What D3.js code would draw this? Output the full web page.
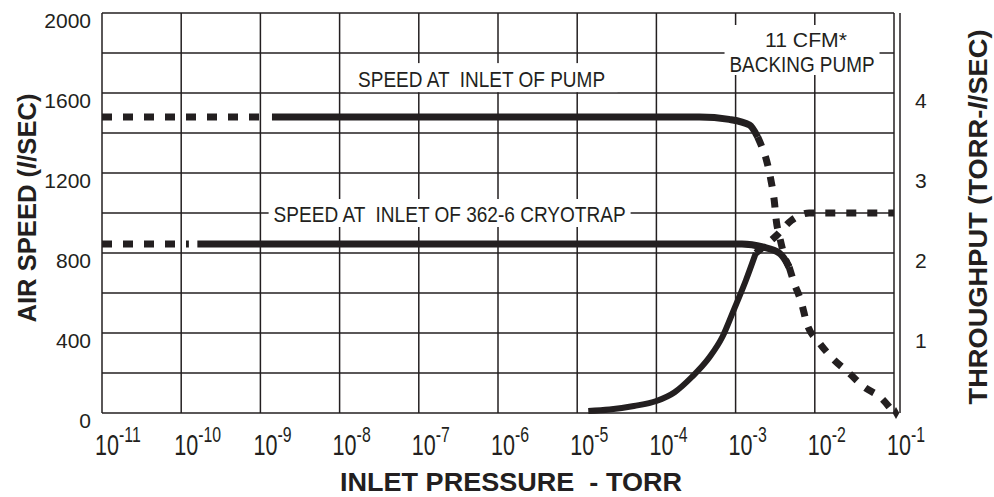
<!DOCTYPE html>
<html>
<head>
<meta charset="utf-8">
<script src="https://cdn.jsdelivr.net/npm/d3@7"></script>
<style>
  body { margin: 0; background: #fff; }
  text { font-family: 'Liberation Sans', Arial, sans-serif; fill: #231f20; white-space: pre; }
</style>
</head>
<body>
<script>
// Pressure axis (torr) and its labels
const pressureTicks = [1e-11, 1e-10, 1e-9, 1e-8, 1e-7, 1e-6, 1e-5, 1e-4, 1e-3, 1e-2, 1e-1]
const pressureExponents = ['-11', '-10', '-9', '-8', '-7', '-6', '-5', '-4', '-3', '-2', '-1']

// Left axis: air speed (l/sec)
const speedGrid = [0, 200, 400, 600, 800, 1000, 1200, 1400, 1600, 1800, 2000]
const speedLabels = [0, 400, 800, 1200, 1600, 2000]

// Right axis: throughput (torr-l/sec)
const throughputLabels = [1, 2, 3, 4]

// Speed at inlet of pump [pressure, l/sec]
const pumpExtrapolated = [[1e-11, 1480], [1e-9, 1480]]
const pumpMeasured = [[1.4e-9, 1480], [3.5e-4, 1480], [8.3e-4, 1468], [1.5e-3, 1440], [1.9e-3, 1380]]
const pumpFalloff = [[1.9e-3, 1380], [2.1e-3, 1340], [2.41e-3, 1275], [2.79e-3, 1165], [3.07e-3, 1065],
  [3.28e-3, 955], [3.55e-3, 890], [4.3e-3, 765], [4.74e-3, 730]]

// Speed at inlet of 362-6 cryotrap [pressure, l/sec]
const trapExtrapolated = [[1e-11, 845], [1.25e-10, 845]]
const trapMeasured = [[1.6e-10, 845], [1.2e-3, 845], [2.2e-3, 830], [3.55e-3, 800], [4.3e-3, 760], [4.74e-3, 730]]

// Shared fall-off at high pressure [pressure, l/sec]
const backingLimit = [[4.74e-3, 730], [5.5e-3, 650], [6.8e-3, 550], [7.9e-3, 450], [1.12e-2, 355],
  [1.66e-2, 275], [2.7e-2, 200], [4.2e-2, 130], [6.9e-2, 75], [1e-1, 0]]

// Throughput [pressure, torr-l/sec]
const throughputMeasured = [[1.38e-5, 0.025], [2.55e-5, 0.044], [5.2e-5, 0.088], [1e-4, 0.15], [1.7e-4, 0.26],
  [2.8e-4, 0.45], [4.7e-4, 0.7], [6.8e-4, 0.95], [9.5e-4, 1.29], [1.35e-3, 1.66], [1.8e-3, 2.0]]
const throughputBacking = [[1.8e-3, 2.0], [3.3e-3, 2.22], [5.1e-3, 2.41], [8.5e-3, 2.5], [1.5e-2, 2.5], [1e-1, 2.5]]

const W = 994, H = 497
const ink = '#231f20'

const svg = d3.select('body').append('svg')
  .attr('width', W).attr('height', H)
  .attr('viewBox', `0 0 ${W} ${H}`)

svg.append('rect').attr('width', W).attr('height', H).attr('fill', '#fff')

const x = d3.scaleLog().domain([1e-11, 1e-1]).range([102, 894])
const y = d3.scaleLinear().domain([0, 2000]).range([413, 13])
const y2 = d3.scaleLinear().domain([0, 5]).range([413, 13])

// Grid
const grid = svg.append('g').attr('stroke', ink).attr('stroke-width', 1.5)
pressureTicks.forEach(p => {
  grid.append('line').attr('x1', x(p)).attr('x2', x(p)).attr('y1', y(2000)).attr('y2', y(0))
})
speedGrid.forEach(v => {
  grid.append('line').attr('x1', x(1e-11)).attr('x2', x(1e-1)).attr('y1', y(v)).attr('y2', y(v))
})
// right axis line
grid.append('line').attr('x1', x(1e-1) + 6).attr('x2', x(1e-1) + 6).attr('y1', y2(5)).attr('y2', y2(0))

// Annotation boxes (white, knock out the grid)
function labelBox(cx, cy, w, h) {
  svg.append('rect').attr('x', cx - w / 2).attr('y', cy - h / 2).attr('width', w).attr('height', h).attr('fill', '#fff')
}
labelBox(x(6.2e-7), y(1677), 272, 29)
labelBox(x(2.45e-7), y(1000), 362, 28)
labelBox(x(6.9e-3), y(1815), 155, 50)

// Curves
const line = d3.line().x(d => x(d[0])).y(d => y(d[1])).curve(d3.curveMonotoneX)
const line2 = d3.line().x(d => x(d[0])).y(d => y2(d[1])).curve(d3.curveMonotoneX)
const curves = svg.append('g').attr('fill', 'none').attr('stroke', ink)

function solid(path, w) {
  curves.append('path').attr('d', path).attr('stroke-width', w || 7).attr('stroke-linecap', 'butt')
}
function dashed(path) {
  curves.append('path').attr('d', path).attr('stroke-width', 7).attr('stroke-dasharray', '10,11')
}

dashed(line(pumpExtrapolated))
solid(line(pumpMeasured))
dashed(line(pumpFalloff))
dashed(line(trapExtrapolated))
solid(line(trapMeasured))
dashed(line(backingLimit))
solid(line2(throughputMeasured), 6)
dashed(line2(throughputBacking))

// end marker
const last = backingLimit[backingLimit.length - 1]
svg.append('path')
  .attr('d', d3.symbol(d3.symbolDiamond, 40)())
  .attr('transform', `translate(${x(last[0]) + 2},${y(last[1])})`)
  .attr('fill', ink)

// Left tick labels
speedLabels.forEach(v => {
  svg.append('text').attr('x', 91).attr('y', y(v) + 15)
    .attr('text-anchor', 'end').style('font-size', '21px').text(v)
})

// Right tick labels
throughputLabels.forEach(v => {
  svg.append('text').attr('x', 915).attr('y', y2(v) + 15)
    .style('font-size', '21px').text(v)
})

// Bottom tick labels 10^n
pressureTicks.forEach((p, i) => {
  const g = svg.append('g').attr('transform', `translate(${x(p) - 7},455) scale(0.72,1)`)
  const t = g.append('text').style('font-size', '30px')
  t.append('tspan').text('10')
  t.append('tspan').attr('dy', -13).style('font-size', '22px').text(pressureExponents[i])
})

// Annotations
svg.append('text').attr('x', x(6.2e-7)).attr('y', 87).attr('text-anchor', 'middle')
  .attr('textLength', 247).attr('lengthAdjust', 'spacingAndGlyphs')
  .style('font-size', '22px').text('SPEED AT  INLET OF PUMP')
svg.append('text').attr('x', x(2.45e-7)).attr('y', 222).attr('text-anchor', 'middle')
  .attr('textLength', 352).attr('lengthAdjust', 'spacingAndGlyphs')
  .style('font-size', '22px').text('SPEED AT  INLET OF 362-6 CRYOTRAP')
svg.append('text').attr('x', 806).attr('y', 47).attr('text-anchor', 'middle')
  .attr('textLength', 82).attr('lengthAdjust', 'spacingAndGlyphs')
  .style('font-size', '20px').text('11 CFM*')
svg.append('text').attr('x', 802).attr('y', 72).attr('text-anchor', 'middle')
  .attr('textLength', 145).attr('lengthAdjust', 'spacingAndGlyphs')
  .style('font-size', '22px').text('BACKING PUMP')

// Axis titles
svg.append('text').attr('x', 511).attr('y', 491).attr('text-anchor', 'middle')
  .attr('textLength', 342).attr('lengthAdjust', 'spacingAndGlyphs')
  .style('font-size', '25px').style('font-weight', 700).text('INLET PRESSURE  - TORR')

const leftTitle = svg.append('text')
  .attr('transform', 'translate(36,208) rotate(-90)')
  .attr('text-anchor', 'middle')
  .attr('textLength', 229).attr('lengthAdjust', 'spacingAndGlyphs')
  .style('font-size', '26px').style('font-weight', 700)
leftTitle.append('tspan').text('AIR SPEED (')
leftTitle.append('tspan').style('font-style', 'italic').text('l')
leftTitle.append('tspan').text('/SEC)')

const rightTitle = svg.append('text')
  .attr('transform', 'translate(987,217) rotate(-90)')
  .attr('text-anchor', 'middle')
  .attr('textLength', 375).attr('lengthAdjust', 'spacingAndGlyphs')
  .style('font-size', '26px').style('font-weight', 700)
rightTitle.append('tspan').text('THROUGHPUT (TORR-')
rightTitle.append('tspan').style('font-style', 'italic').text('l')
rightTitle.append('tspan').text('/SEC)')
</script>
</body>
</html>
